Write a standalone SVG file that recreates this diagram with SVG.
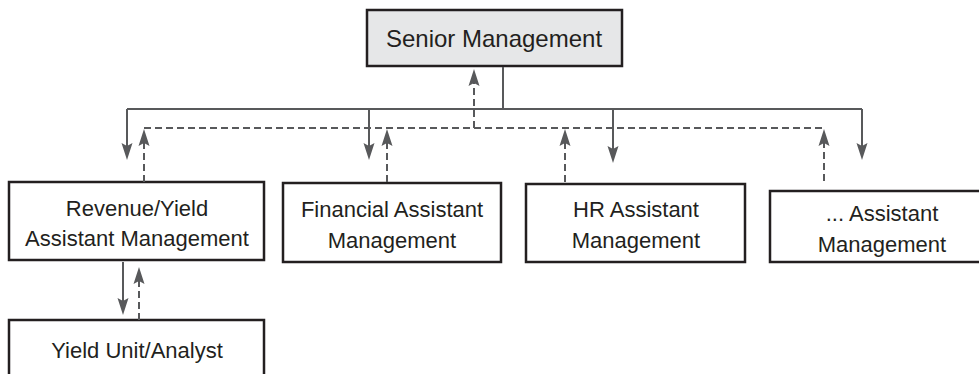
<svg xmlns="http://www.w3.org/2000/svg" width="979" height="374" viewBox="0 0 979 374">
  <style>
    .box { fill: #ffffff; stroke: #231f20; stroke-width: 2.5; }
    .top { fill: #e6e7e8; }
    .lbl { font-family: "Liberation Sans", Arial, sans-serif; font-size: 22px; fill: #231f20; text-anchor: middle; }
    .big { font-size: 24px; }
    .solid { fill: none; stroke: #58595b; stroke-width: 2; }
    .dash { fill: none; stroke: #58595b; stroke-width: 2; stroke-dasharray: 7 4; }
    .arrow { marker-end: url(#ah); }
  </style>
  <defs>
    <marker id="ah" viewBox="-10 -7 20 14" markerWidth="20" markerHeight="14" refX="0" refY="0" markerUnits="userSpaceOnUse" orient="auto">
      <path d="M9,0 L-8,-5.5 L-5,0 L-8,5.5 Z" fill="#58595b" stroke="none"/>
    </marker>
  </defs>

  <g id="senior">
    <rect class="box top" x="367" y="10" width="255" height="56"/>
    <text class="lbl big" x="494" y="47">Senior Management</text>
  </g>
  <g id="revenue">
    <rect class="box" x="9" y="182" width="255" height="78"/>
    <text class="lbl" x="137" y="216">Revenue/Yield</text>
    <text class="lbl" x="137" y="246">Assistant Management</text>
  </g>
  <g id="financial">
    <rect class="box" x="283" y="183" width="218" height="79"/>
    <text class="lbl" x="392" y="217">Financial Assistant</text>
    <text class="lbl" x="392" y="248">Management</text>
  </g>
  <g id="hr">
    <rect class="box" x="526" y="184" width="219" height="78"/>
    <text class="lbl" x="636" y="217">HR Assistant</text>
    <text class="lbl" x="636" y="248">Management</text>
  </g>
  <g id="other">
    <rect class="box" x="770" y="191" width="224" height="71"/>
    <text class="lbl" x="882" y="221">... Assistant</text>
    <text class="lbl" x="882" y="252">Management</text>
  </g>
  <g id="yield">
    <rect class="box" x="9" y="320" width="255" height="70"/>
    <text class="lbl" x="137" y="358">Yield Unit/Analyst</text>
  </g>

  <g id="connectors">
    <path class="solid" d="M503,67 V109"/>
    <path class="solid" d="M127,109 H862"/>
    <path class="solid arrow" d="M127,109 V151"/>
    <path class="solid arrow" d="M369,109 V151"/>
    <path class="solid arrow" d="M613,109 V154"/>
    <path class="solid arrow" d="M862,109 V151"/>
    <path class="solid arrow" d="M123,262 V306"/>

    <path class="dash" d="M144,128 H824"/>
    <path class="dash arrow" d="M474,128 V78"/>
    <path class="dash arrow" d="M144,182 V138"/>
    <path class="dash arrow" d="M387,182 V138"/>
    <path class="dash arrow" d="M565,182 V138"/>
    <path class="dash arrow" d="M824,181 V138"/>
    <path class="dash arrow" d="M139,320 V276"/>
  </g>
</svg>
